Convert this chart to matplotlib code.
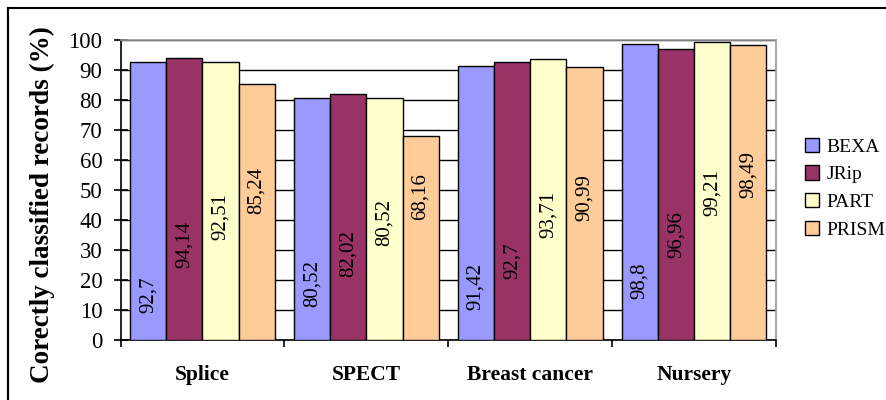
import matplotlib
matplotlib.use("Agg")
import matplotlib.pyplot as plt
import numpy as np
from matplotlib.lines import Line2D
from matplotlib.patches import Patch

# Data
datasets = ["Splice", "SPECT", "Breast cancer", "Nursery"]
algorithms = ["BEXA", "JRip", "PART", "PRISM"]
bexa = [92.7, 80.52, 91.42, 98.8]
jrip = [94.14, 82.02, 92.7, 96.96]
part = [92.51, 80.52, 93.71, 99.21]
prism = [85.24, 68.16, 90.99, 98.49]
value_labels = [
    ["92,7", "80,52", "91,42", "98,8"],
    ["94,14", "82,02", "92,7", "96,96"],
    ["92,51", "80,52", "93,71", "99,21"],
    ["85,24", "68,16", "90,99", "98,49"],
]
y_ticks = [0, 10, 20, 30, 40, 50, 60, 70, 80, 90, 100]

# Heights (in axis units) at which the rotated value labels are centred
label_heights = [
    [15.0, 18.7, 18.0, 19.7],
    [32.0, 28.7, 26.3, 35.0],
    [41.0, 39.3, 41.7, 49.0],
    [50.0, 47.7, 47.5, 55.0],
]

colors = ["#9999FF", "#993366", "#FFFFCC", "#FFCC99"]
serif = ["Liberation Serif", "DejaVu Serif"]

fig = plt.figure(figsize=(8.86, 4.0), dpi=100)
ax = fig.add_axes([120.5 / 886, 1 - 340 / 400, 655.5 / 886, 300 / 400])

series = [bexa, jrip, part, prism]
bar_w = 0.221
x = np.arange(len(datasets)) + 0.5
for i, vals in enumerate(series):
    xs = x + (i - 1.5) * bar_w
    ax.bar(xs, vals, width=bar_w, color=colors[i], edgecolor="black",
           linewidth=1.0, zorder=3, label=algorithms[i])
    for xi, h, txt in zip(xs, label_heights[i], value_labels[i]):
        ax.text(xi, h, txt, rotation=90, ha="center", va="center",
                fontsize=15, family=serif, color="black", zorder=4)

ax.set_xlim(0, len(datasets))
ax.set_ylim(0, 100)
ax.set_yticks(y_ticks)
ax.set_yticklabels([str(t) for t in y_ticks], fontsize=16.5, family=serif)
ax.yaxis.grid(True, color="black", linewidth=1.0, zorder=0)
ax.set_axisbelow(True)

ax.set_xticks(np.arange(len(datasets) + 1))
ax.set_xticklabels([])
ax.set_xticks(x, minor=True)
ax.set_xticklabels(datasets, minor=True, fontsize=15.5, family=serif,
                   fontweight="bold")
ax.tick_params(axis="x", which="minor", length=0, pad=18)
ax.tick_params(axis="x", which="major", direction="out", length=5, width=1.2)
ax.tick_params(axis="y", direction="inout", length=10, width=1.2, pad=8)

for side in ("left", "bottom"):
    ax.spines[side].set_color("black")
    ax.spines[side].set_linewidth(1.2)
for side in ("top", "right"):
    ax.spines[side].set_color("#999999")
    ax.spines[side].set_linewidth(1.2)

ax.set_ylabel("Corectly classified records (%)", fontsize=19.5, family=serif,
              fontweight="bold")
ax.yaxis.set_label_coords(-(120.5 - 42) / 655.5, (340 - 205) / 300)
ax.yaxis.label.set_va("center")

handles = [Patch(facecolor=c, edgecolor="black", linewidth=1.0) for c in colors]
fig.legend(handles, algorithms, loc="upper left",
           bbox_to_anchor=(797 / 886, 1 - 130 / 400), frameon=False,
           prop={"family": serif, "size": 14}, handlelength=0.75,
           handleheight=0.75, handletextpad=0.35, labelspacing=0.5,
           borderaxespad=0)

# Outer frame of the chart area
fig.add_artist(Line2D([7.5 / 886, 7.5 / 886], [0, 1 - 8 / 400], color="black",
                      linewidth=1.5, transform=fig.transFigure))
fig.add_artist(Line2D([7.5 / 886, 1], [1 - 8 / 400, 1 - 8 / 400], color="black",
                      linewidth=1.5, transform=fig.transFigure))

fig.savefig("out.png", dpi=100)
